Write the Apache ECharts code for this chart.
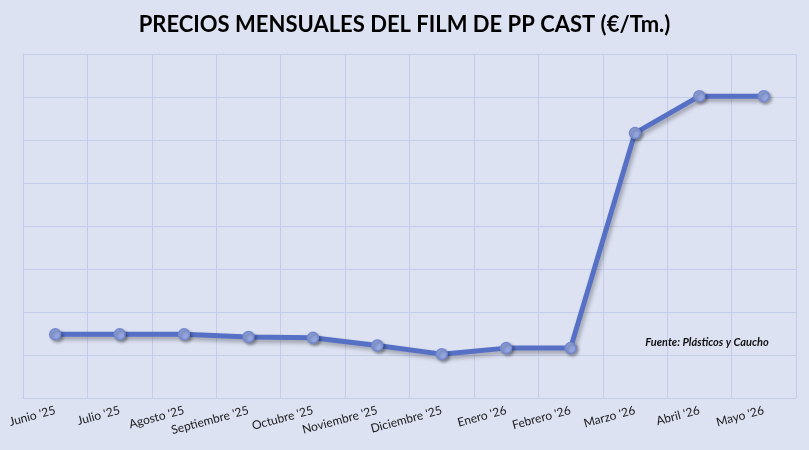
<!DOCTYPE html>
<html><head><meta charset="utf-8">
<script src="https://cdn.jsdelivr.net/npm/echarts@6/dist/echarts.min.js"></script>
<style>html,body{margin:0;padding:0;background:#dde2f3;}#c{width:809px;height:450px;}</style>
</head><body><div id="c"></div>
<script>
const categories = ["Junio '25","Julio '25","Agosto '25","Septiembre '25","Octubre '25","Noviembre '25","Diciembre '25","Enero '26","Febrero '26","Marzo '26","Abril '26","Mayo '26"];
const prices = [1374, 1374, 1374, 1371, 1370, 1361, 1351, 1358, 1358, 1608, 1651, 1651];
const titleText = "PRECIOS MENSUALES DEL FILM DE PP CAST (€/Tm.)";
const sourceText = "Fuente: Plásticos y Caucho";

const chart = echarts.init(document.getElementById('c'));
const gridCol = '#c3cdea';
chart.setOption({
  backgroundColor: '#dde2f3',
  animation: false,
  title: {
    text: titleText, left: 'center', top: 9,
    textStyle: {fontFamily: 'Lato', fontWeight: 'bold', fontSize: 22, color: '#000'}
  },
  grid: {left: 23, right: 13, top: 54, bottom: 52, containLabel: false},
  xAxis: {
    type: 'category', data: categories, boundaryGap: true,
    axisLine: {show: true, lineStyle: {color: gridCol, width: 1}},
    axisTick: {show: false},
    splitLine: {show: true, lineStyle: {color: gridCol, width: 1}},
    axisLabel: {rotate: 15, margin: 12, fontFamily: 'Lato', fontSize: 12, color: '#1a1a1a', interval: 0}
  },
  yAxis: {
    type: 'value', min: 1300, max: 1700, interval: 50,
    axisLabel: {show: false}, axisTick: {show: false},
    axisLine: {show: true, lineStyle: {color: gridCol}},
    splitLine: {show: true, lineStyle: {color: gridCol, width: 1}}
  },
  series: [{
    type: 'line', data: prices, symbol: 'circle', symbolSize: 11,
    lineStyle: {color: '#5670c6', width: 5, shadowColor: 'rgba(0,0,0,0.3)', shadowBlur: 4, shadowOffsetX: 2, shadowOffsetY: 3},
    itemStyle: {color: '#92a5de', borderColor: '#7488cf', borderWidth: 1.5, shadowColor: 'rgba(0,0,0,0.3)', shadowBlur: 3, shadowOffsetX: 2, shadowOffsetY: 2},
    z: 3
  }],
  graphic: [{
    type: 'group', left: 632, top: 316, z: 10,
    children: [
      {type: 'rect', shape: {x: 0, y: 0, width: 151, height: 41}, style: {fill: '#dde2f3'}},
      {type: 'text', x: 75, y: 26, style: {text: sourceText, textAlign: 'center', textVerticalAlign: 'middle', font: 'italic bold 11px Lato', fill: '#111'}}
    ]
  }]
});
</script></body></html>
